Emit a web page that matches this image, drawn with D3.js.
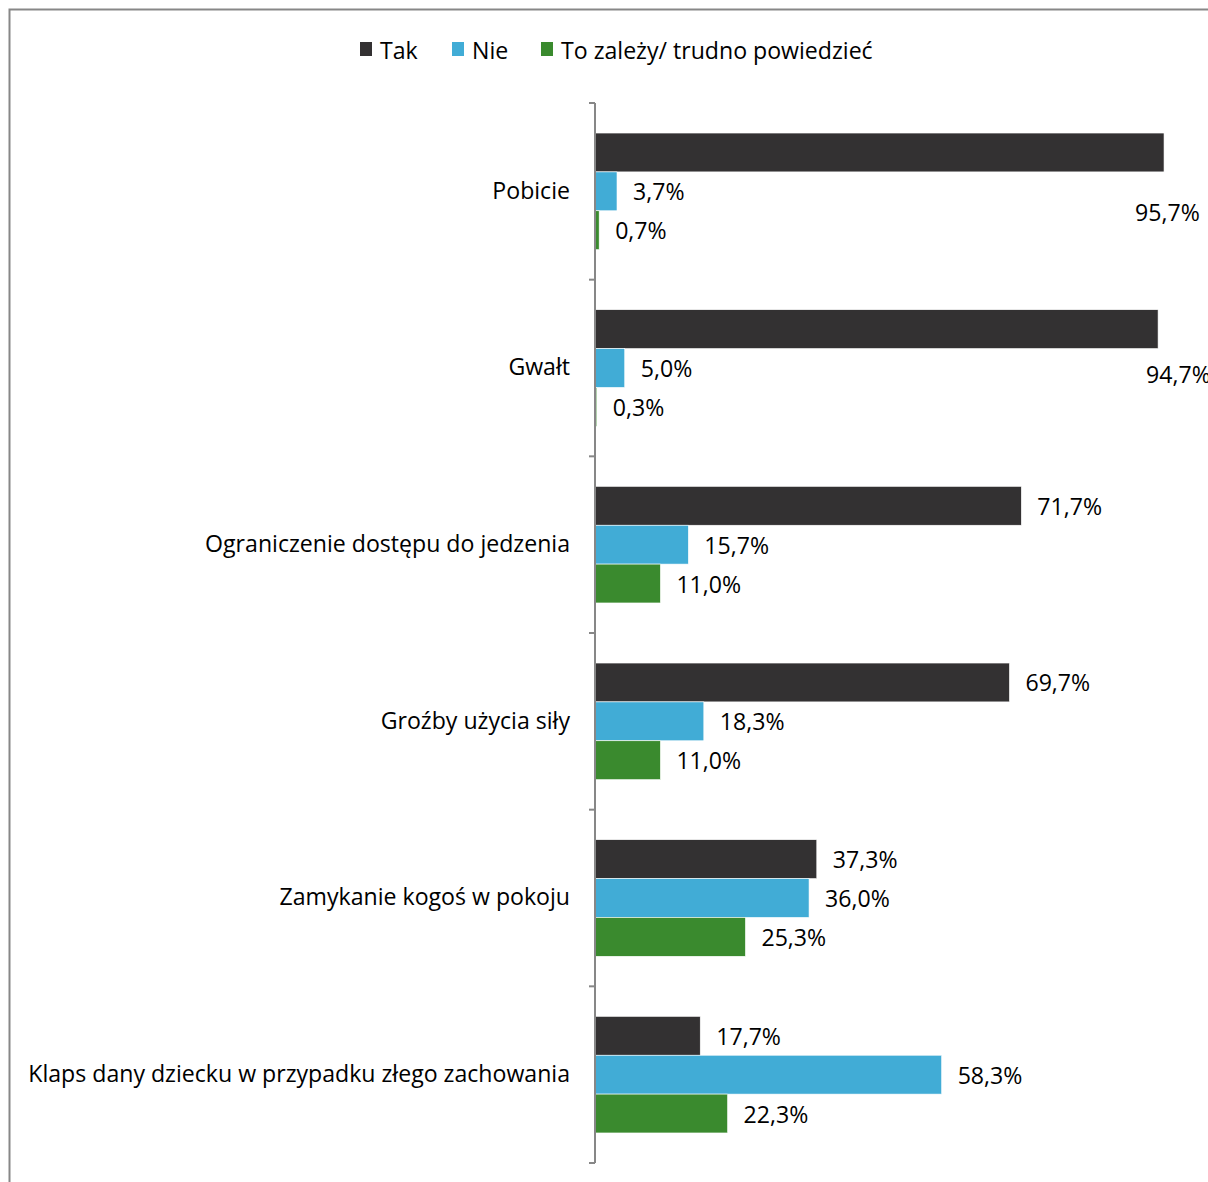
<!DOCTYPE html>
<html><head><meta charset="utf-8">
<script src="https://cdn.jsdelivr.net/npm/d3@7"></script>
<style>body{margin:0;background:#fff}svg{display:block}text{font-family:"Open Sans",sans-serif;fill:#000}</style>
</head><body>
<script>
const categories = ["Pobicie","Gwałt","Ograniczenie dostępu do jedzenia","Groźby użycia siły","Zamykanie kogoś w pokoju","Klaps dany dziecku w przypadku złego zachowania"];
const seriesNames = ["Tak","Nie","To zależy/ trudno powiedzieć"];
const tak = [95.7,94.7,71.7,69.7,37.3,17.7];
const nie = [3.7,5.0,15.7,18.3,36.0,58.3];
const zalezy = [0.7,0.3,11.0,11.0,25.3,22.3];
const colors = ["#333132","#41acd6","#3a8a2e"];
// manual placement for Excel-style labels that overflow the plot
const overflowShift = {"Pobicie":[-29,60],"Gwałt":[-12,45]};

const W=1208,H=1182;
const svg=d3.select("body").append("svg").attr("width",W).attr("height",H);
svg.append("rect").attr("x",9.5).attr("y",9.5).attr("width",W).attr("height",H).attr("fill","none").attr("stroke","#878787").attr("stroke-width",2);

// fit font size so the longest category label spans like the reference
const probe=svg.append("text").attr("font-size",22).text(categories[5]);
const fs=22*542/probe.node().getComputedTextLength();
probe.remove();

const series=[tak,nie,zalezy];
const x=d3.scaleLinear().domain([0,100]).range([595,1189.6]);
const y=d3.scaleBand().domain(categories).range([103,1163]).paddingInner(0.34).paddingOuter(0.17);
const ys=d3.scaleBand().domain(seriesNames).range([0,y.bandwidth()]);
const fmt=v=>d3.format(".1f")(v).replace(".",",")+"%";

// legend
const leg=svg.append("g");
const legX=[360,452,541];
seriesNames.forEach((s,i)=>{
  leg.append("rect").attr("x",legX[i]).attr("y",42).attr("width",12).attr("height",14).attr("fill",colors[i]);
  leg.append("text").attr("x",legX[i]+20).attr("y",50).attr("dominant-baseline","central").attr("font-size",fs).text(s);
});

// bars
categories.forEach((c,ci)=>{
  const g=svg.append("g").attr("transform",`translate(0,${y(c)})`);
  seriesNames.forEach((s,si)=>{
    const v=series[si][ci];
    g.append("rect").attr("x",x(0)).attr("y",ys(s)).attr("width",x(v)-x(0)).attr("height",ys.bandwidth())
      .attr("fill",colors[si]).attr("stroke","#fff").attr("stroke-width",0.6);
    let lx=x(v)+16, ly=ys(s)+ys.bandwidth()/2;
    if(si===0 && overflowShift[c]){lx=x(v)+overflowShift[c][0]; ly+=overflowShift[c][1];}
    g.append("text").attr("x",lx).attr("y",ly).attr("dominant-baseline","central").attr("font-size",fs).text(fmt(v));
  });
});

// axis
const ax=svg.append("g").attr("transform","translate(595,0)")
  .call(d3.axisLeft(y).tickSize(0).tickPadding(25));
ax.select(".domain").attr("stroke","#878787").attr("stroke-width",2).attr("d","M0,103V1163");
ax.selectAll(".tick text").attr("font-size",fs).attr("font-family","'Open Sans',sans-serif").attr("fill","#000");
const tickYs=d3.range(categories.length+1).map(i=>103+i*y.step());
svg.append("g").selectAll("line").data(tickYs).join("line")
  .attr("x1",589).attr("x2",595).attr("y1",d=>d).attr("y2",d=>d).attr("stroke","#878787").attr("stroke-width",2);
</script>
</body></html>
